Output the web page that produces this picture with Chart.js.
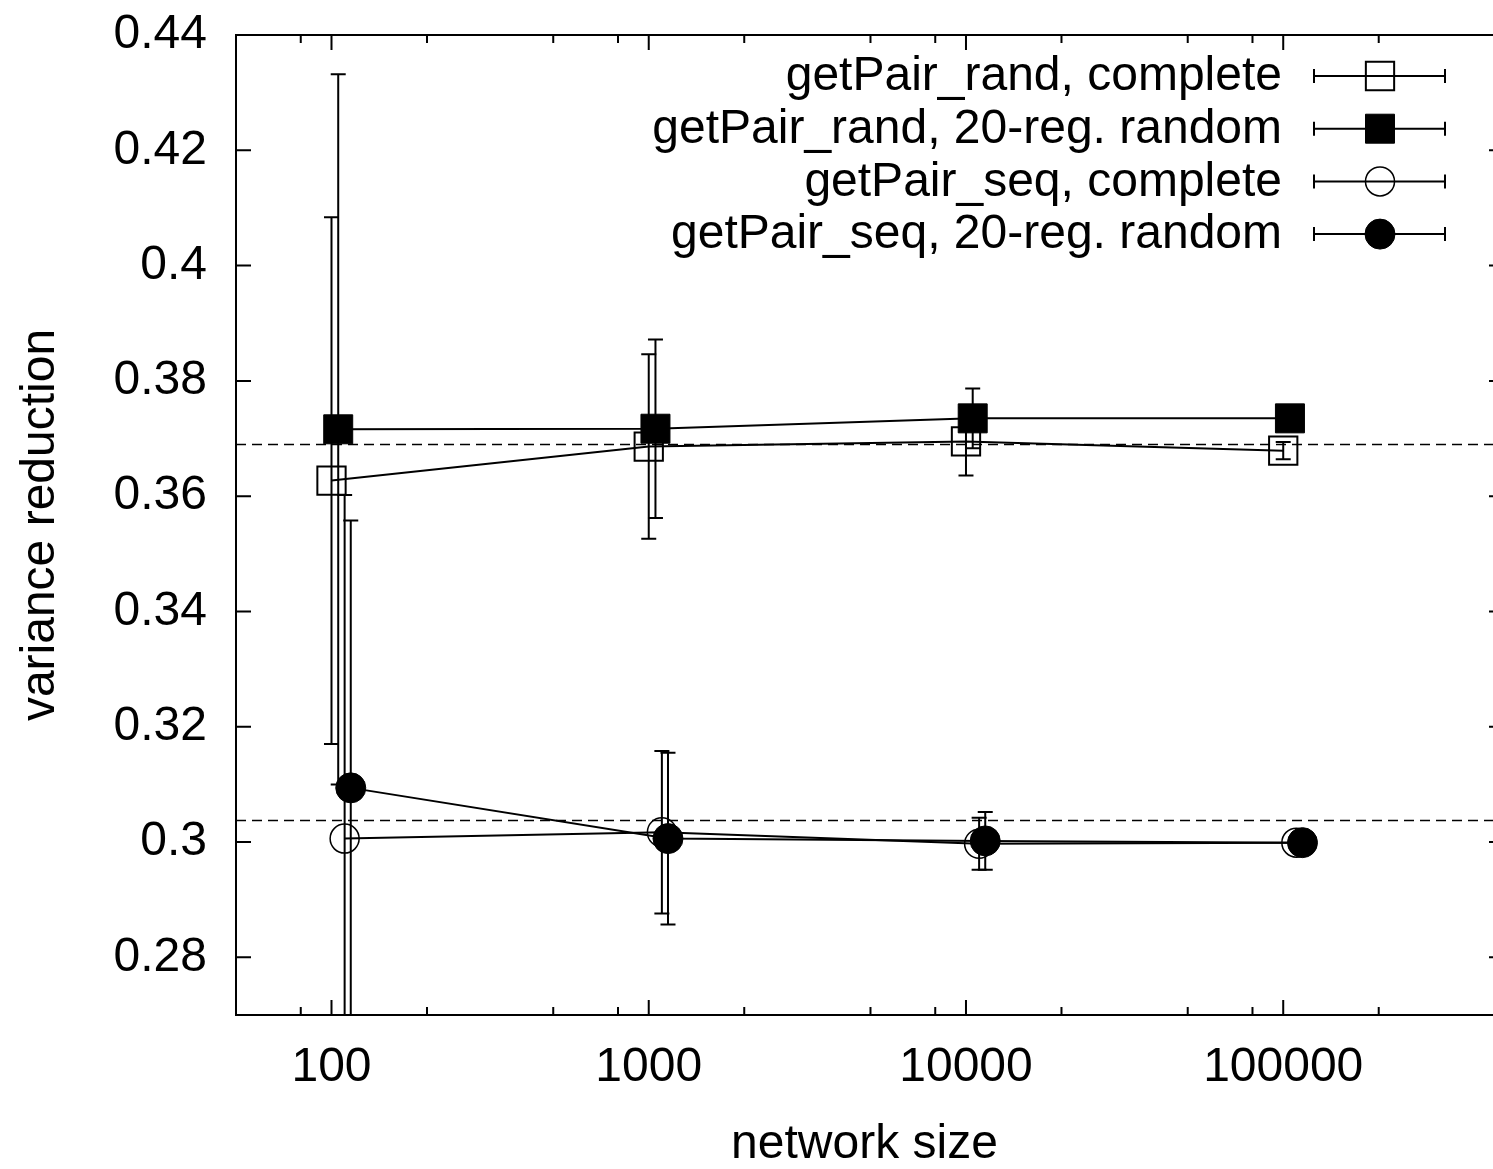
<!DOCTYPE html>
<html><head><meta charset="utf-8">
<script src="https://cdn.jsdelivr.net/npm/chart.js@4.4.0/dist/chart.umd.min.js"></script>
<style>html,body{margin:0;padding:0;background:#fff;}</style>
</head><body>
<canvas id="c" width="1493" height="1169" style="display:block;width:1493px;height:1169px"></canvas>
<script>
// ---- data ----
const seriesLabels = ['getPair_rand, complete', 'getPair_rand, 20-reg. random', 'getPair_seq, complete', 'getPair_seq, 20-reg. random'];
const xRandComplete = [100, 1000, 10000, 100000];
const yRandComplete = [0.3627, 0.3686, 0.3695, 0.3679];
const eRandComplete = [0.0457, 0.0160, 0.0059, 0.0015];
const xRandReg = [105, 1050, 10500, 105000];
const yRandReg = [0.3716, 0.3717, 0.3735, 0.3735];
const eRandReg = [0.0616, 0.0155, 0.0052, 0.0015];
const xSeqComplete = [110, 1100, 11000, 110000];
const ySeqComplete = [0.3006, 0.3017, 0.2997, 0.2999];
const eSeqComplete = [0.0596, 0.0141, 0.0045, 0.0008];
const xSeqReg = [115, 1150, 11500, 115000];
const ySeqReg = [0.3094, 0.3006, 0.3002, 0.2999];
const eSeqReg = [0.0464, 0.0149, 0.0050, 0.0008];
const referenceLevels = [0.3691, 0.3038];
const xMajorTicks = [100, 1000, 10000, 100000];
const xMinorTicks = [80, 200, 500, 800, 2000, 5000, 8000, 20000, 50000, 80000, 200000];
const yTicks = [0.28, 0.30, 0.32, 0.34, 0.36, 0.38, 0.40, 0.42, 0.44];

const FONT = '"Liberation Sans", Arial, Helvetica, sans-serif';
Chart.defaults.font.family = FONT;
Chart.defaults.color = '#000';

function pts(xs, ys) { return xs.map((x, i) => ({x: x, y: ys[i]})); }

const styles = [
  {pointStyle: 'rect', pointRadius: 20, fill: false, pbw: 2},
  {pointStyle: 'rect', pointRadius: 20.5, fill: true, pbw: 1},
  {pointStyle: 'circle', pointRadius: 14.5, fill: false, pbw: 1.5},
  {pointStyle: 'circle', pointRadius: 15, fill: true, pbw: 1}
];
const xs = [xRandComplete, xRandReg, xSeqComplete, xSeqReg];
const ys = [yRandComplete, yRandReg, ySeqComplete, ySeqReg];
const es = [eRandComplete, eRandReg, eSeqComplete, eSeqReg];

const datasets = seriesLabels.map((lab, k) => ({
  label: lab,
  data: pts(xs[k], ys[k]),
  err: es[k],
  borderColor: '#000',
  backgroundColor: styles[k].fill ? '#000' : 'rgba(0,0,0,0)',
  pointBackgroundColor: styles[k].fill ? '#000' : 'rgba(0,0,0,0)',
  pointBorderColor: '#000',
  pointBorderWidth: styles[k].pbw,
  pointStyle: styles[k].pointStyle,
  pointRadius: styles[k].pointRadius,
  pointHoverRadius: styles[k].pointRadius,
  borderWidth: 2,
  tension: 0,
  fill: false,
  order: 3 - k
}));

function drawMarker(ctx, k, x, y) {
  const s = styles[k];
  ctx.save();
  ctx.lineWidth = s.pbw;
  ctx.strokeStyle = '#000';
  ctx.fillStyle = '#000';
  ctx.beginPath();
  if (s.pointStyle === 'rect') {
    const h = s.pointRadius * Math.SQRT1_2;
    ctx.rect(x - h, y - h, 2 * h, 2 * h);
  } else {
    ctx.arc(x, y, s.pointRadius, 0, Math.PI * 2);
  }
  if (s.fill) ctx.fill();
  ctx.stroke();
  ctx.restore();
}

const gnuplotDecor = {
  id: 'gnuplotDecor',
  beforeDatasetsDraw(chart) {
    const {ctx, chartArea: a, scales: {x, y}} = chart;
    ctx.save();
    ctx.beginPath();
    ctx.rect(a.left, a.top, a.right - a.left, a.bottom - a.top);
    ctx.clip();
    ctx.strokeStyle = '#000';
    ctx.lineWidth = 1.5;
    ctx.setLineDash([10, 6]);
    referenceLevels.forEach(v => {
      const py = Math.round(y.getPixelForValue(v)) + 0.5;
      ctx.beginPath(); ctx.moveTo(a.left, py); ctx.lineTo(a.right, py); ctx.stroke();
    });
    ctx.setLineDash([]);
    ctx.lineWidth = 2;
    chart.data.datasets.forEach(ds => {
      ds.data.forEach((p, i) => {
        const px = x.getPixelForValue(p.x);
        const yt = y.getPixelForValue(p.y + ds.err[i]);
        const yb = y.getPixelForValue(p.y - ds.err[i]);
        ctx.beginPath();
        ctx.moveTo(px, yt); ctx.lineTo(px, yb);
        ctx.moveTo(px - 7.5, yt); ctx.lineTo(px + 7.5, yt);
        ctx.moveTo(px - 7.5, yb); ctx.lineTo(px + 7.5, yb);
        ctx.stroke();
      });
    });
    ctx.restore();
  },
  afterDatasetsDraw(chart) {
    const {ctx, chartArea: a, scales: {x, y}} = chart;
    ctx.save();
    ctx.strokeStyle = '#000';
    ctx.lineWidth = 2;
    // frame: left, top, bottom (right edge lies just outside the picture)
    ctx.beginPath();
    ctx.moveTo(a.right, a.top); ctx.lineTo(a.left, a.top);
    ctx.lineTo(a.left, a.bottom); ctx.lineTo(a.right, a.bottom);
    ctx.stroke();
    ctx.beginPath();
    yTicks.forEach(v => {
      const py = y.getPixelForValue(v);
      ctx.moveTo(a.left, py); ctx.lineTo(a.left + 15, py);
      ctx.moveTo(a.right, py); ctx.lineTo(a.right - 4, py);
    });
    xMajorTicks.forEach(v => {
      const px = x.getPixelForValue(v);
      ctx.moveTo(px, a.bottom); ctx.lineTo(px, a.bottom - 15);
      ctx.moveTo(px, a.top); ctx.lineTo(px, a.top + 15);
    });
    xMinorTicks.forEach(v => {
      const px = x.getPixelForValue(v);
      ctx.moveTo(px, a.bottom); ctx.lineTo(px, a.bottom - 8);
      ctx.moveTo(px, a.top); ctx.lineTo(px, a.top + 8);
    });
    ctx.stroke();
    ctx.font = '48px ' + FONT;
    ctx.fillStyle = '#000';
    ctx.textAlign = 'right';
    ctx.textBaseline = 'middle';
    chart.data.datasets.forEach((ds, k) => {
      const ry = a.top + 41 + k * 52.7;
      const textRight = a.right - 211;
      const l0 = a.right - 179, l1 = a.right - 48, mx = a.right - 113;
      ctx.fillText(ds.label, textRight, ry + 1);
      ctx.lineWidth = 2;
      ctx.beginPath();
      ctx.moveTo(l0, ry); ctx.lineTo(l1, ry);
      ctx.moveTo(l0, ry - 7); ctx.lineTo(l0, ry + 7);
      ctx.moveTo(l1, ry - 7); ctx.lineTo(l1, ry + 7);
      ctx.stroke();
      drawMarker(ctx, k, mx, ry);
    });
    ctx.restore();
  }
};

function zeroPad(scale) {
  scale.paddingTop = 0; scale.paddingBottom = 0;
  scale.paddingLeft = 0; scale.paddingRight = 0;
}

new Chart(document.getElementById('c'), {
  type: 'line',
  data: {datasets: datasets},
  plugins: [gnuplotDecor],
  options: {
    responsive: false,
    devicePixelRatio: 1,
    animation: false,
    events: [],
    layout: {autoPadding: false, padding: {left: 0, top: 35, right: 0, bottom: 0}},
    plugins: {legend: {display: false}, tooltip: {enabled: false}},
    scales: {
      x: {
        type: 'logarithmic',
        min: 50,
        max: 458400,
        afterBuildTicks: axis => { axis.ticks = xMajorTicks.map(v => ({value: v})); },
        afterFit: scale => { scale.height = 154; zeroPad(scale); },
        ticks: {
          autoSkip: false, maxRotation: 0, minRotation: 0, padding: 24,
          color: '#000', font: {size: 48},
          callback: v => String(v)
        },
        grid: {display: false, drawTicks: false},
        border: {display: false},
        title: {display: true, text: 'network size', color: '#000',
                font: {size: 48, lineHeight: 1}, padding: {top: 24.4, bottom: 0}}
      },
      y: {
        type: 'linear',
        min: 0.27,
        max: 0.44,
        afterBuildTicks: axis => { axis.ticks = yTicks.map(v => ({value: v})); },
        afterFit: scale => { scale.width = 236; zeroPad(scale); },
        ticks: {
          padding: 29, color: '#000', font: {size: 48},
          callback: v => String(+(+v).toFixed(2))
        },
        grid: {display: false, drawTicks: false},
        border: {display: false},
        title: {display: true, text: 'variance reduction', color: '#000',
                font: {size: 48, lineHeight: 1}, padding: {top: 17, bottom: 49}}
      }
    }
  }
});
</script>
</body></html>
